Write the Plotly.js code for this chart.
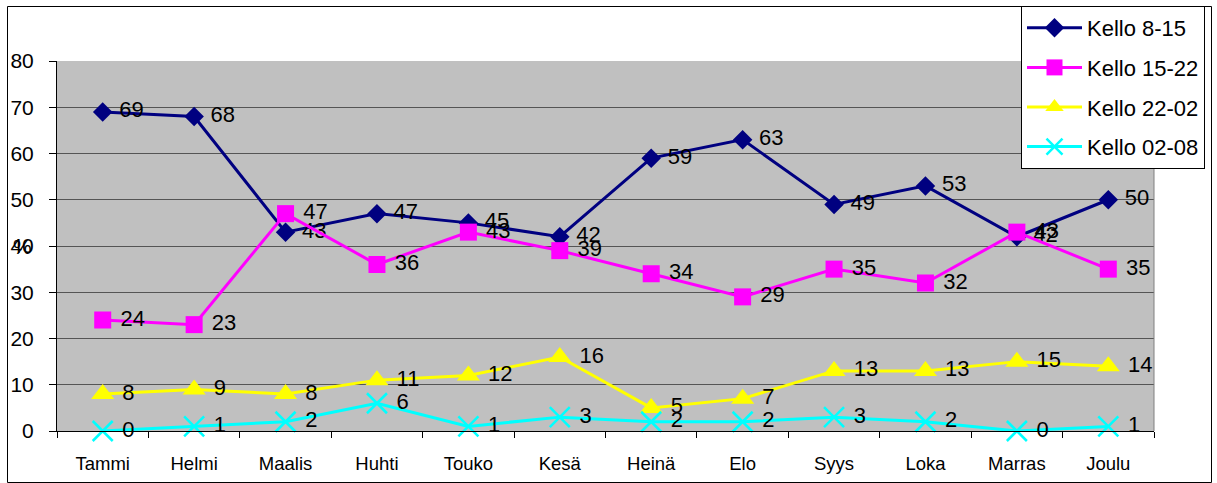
<!DOCTYPE html>
<html>
<head>
<meta charset="utf-8">
<script src="https://cdn.plot.ly/plotly-3.0.1.min.js"></script>
<style>html,body{margin:0;padding:0;background:#fff;}#chart{width:1217px;height:483px;}</style>
</head>
<body>
<div id="chart"></div>
<script>
const months = ["Tammi","Helmi","Maalis","Huhti","Touko","Kesä","Heinä","Elo","Syys","Loka","Marras","Joulu"];
const kello0815 = [69, 68, 43, 47, 45, 42, 59, 63, 49, 53, 42, 50];
const kello1522 = [24, 23, 47, 36, 43, 39, 34, 29, 35, 32, 43, 35];
const kello2202 = [8, 9, 8, 11, 12, 16, 5, 7, 13, 13, 15, 14];
const kello0208 = [0, 1, 2, 6, 1, 3, 2, 2, 3, 2, 0, 1];
const seriesNames = ["Kello 8-15", "Kello 15-22", "Kello 22-02", "Kello 02-08"];

const L = 57, R = 1154, T = 61, B = 431;
const PW = R - L, PH = B - T;
const px = x => (x - L) / PW;
const py = y => (B - y) / PH;
const FONT = 'Liberation Sans, Arial, sans-serif';

function mk(name, y, color, symbol, size, grp) {
  const isX = symbol.indexOf('x') === 0;
  return {
    type: 'scatter', mode: 'lines+markers+text', name: name, x: months, y: y,
    text: y.map(v => '\u00a0' + String(v)), textposition: 'middle right',
    textfont: {family: FONT, size: 22, color: '#000'},
    line: {color: color, width: 3},
    marker: {color: color, symbol: symbol, size: size, line: {color: color, width: isX ? 2.5 : 0}},
    legendgroup: grp, cliponaxis: false
  };
}

const data = [
  mk(seriesNames[0], kello0815, '#000080', 'diamond', 15, 'a'),
  mk(seriesNames[1], kello1522, '#FF00FF', 'square', 17, 'b'),
  mk(seriesNames[2], kello2202, '#FFFF00', 'triangle-up', 20, 'c'),
  mk(seriesNames[3], kello0208, '#00FFFF', 'x-thin-open', 20, 'd')
];

const layout = {
  width: 1217, height: 483,
  margin: {l: L, r: 1217 - R, t: T, b: 483 - B, pad: 0, autoexpand: false},
  paper_bgcolor: '#ffffff', plot_bgcolor: '#C0C0C0',
  font: {family: FONT, color: '#000'},
  showlegend: true,
  legend: {
    x: px(1021), y: py(6), xanchor: 'left', yanchor: 'top',
    bgcolor: '#ffffff', bordercolor: '#000', borderwidth: 1,
    font: {family: FONT, size: 22, color: '#000'},
    traceorder: 'grouped', tracegroupgap: 8, itemwidth: 55
  },
  xaxis: {
    type: 'category', range: [-0.5, 11.5], tickson: 'boundaries',
    ticks: 'outside', ticklen: 6, tickcolor: '#000', tickwidth: 1,
    showline: true, linecolor: '#000', linewidth: 1,
    showgrid: false, zeroline: false, ticklabelstandoff: 16,
    tickfont: {family: FONT, size: 18.5, color: '#000'}, fixedrange: true
  },
  yaxis: {
    range: [0, 80], dtick: 10, tick0: 0,
    ticks: 'outside', ticklen: 7, tickcolor: '#000', tickwidth: 1,
    showline: true, linecolor: '#000', linewidth: 1,
    showgrid: true, gridcolor: '#555555', gridwidth: 1, zeroline: false,
    tickfont: {family: FONT, size: 21, color: '#000'}, ticklabelstandoff: 11, fixedrange: true
  },
  annotations: [
    {xref: 'paper', yref: 'paper', x: px(22), y: 0.5, text: '%', showarrow: false,
     font: {family: FONT, size: 21, color: '#000'}, xanchor: 'center', yanchor: 'middle'}
  ],
  shapes: [
    {type: 'rect', xref: 'paper', yref: 'paper', x0: px(7.5), x1: px(1211.5), y0: py(482.5), y1: py(6.5),
     line: {color: '#000', width: 1}, fillcolor: 'rgba(0,0,0,0)', layer: 'below'},
    {type: 'line', xref: 'paper', yref: 'paper', x0: 1, x1: 1, y0: 0, y1: 1,
     line: {color: '#808080', width: 1}}
  ]
};

Plotly.newPlot('chart', data, layout, {displayModeBar: false, staticPlot: true});
</script>
</body>
</html>
